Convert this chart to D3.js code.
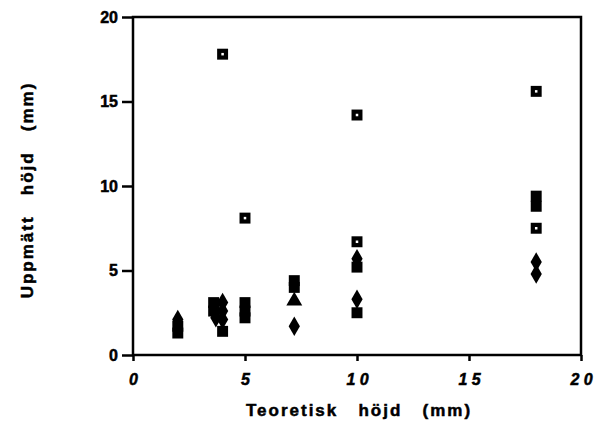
<!DOCTYPE html>
<html>
<head>
<meta charset="utf-8">
<script src="https://cdn.jsdelivr.net/npm/d3@7"></script>
<style>
  body { margin: 0; background: #fff; }
  text { font-family: "Liberation Sans", Arial, sans-serif; font-weight: bold; fill: #000; stroke: #000; stroke-width: 0.5px; }
</style>
</head>
<body>
<div id="chart"></div>
<script>
// data (x = teoretisk höjd, y = uppmätt höjd, mm)
var openSquares = [[4, 17.8], [5, 8.1], [10, 14.2], [18, 15.6], [10, 6.7], [18, 7.5]];
var filledSquares = [[2, 1.3], [2, 1.7], [3.6, 3.1], [3.6, 2.6], [4, 1.4], [5, 3.1], [5, 2.6], [5, 2.2],
                     [7.2, 4.4], [7.2, 4.0], [10, 5.2], [10, 2.5], [18, 9.4], [18, 8.8]];
var diamonds = [[2, 2.1], [3.7, 2.2], [4, 3.1], [4, 2.6], [4, 2.1], [7.2, 1.7], [10, 5.7], [10, 3.3],
                [18, 5.5], [18, 4.8]];
var triangles = [[7.2, 3.2]];
var xTicks = [0, 5, 10, 15, 20];
var yTicks = [0, 5, 10, 15, 20];

var margin = { top: 17, right: 13, bottom: 67, left: 133 },
    width = 594 - margin.left - margin.right,
    height = 422 - margin.top - margin.bottom;

var svg = d3.select("#chart")
  .append("svg")
    .attr("width", 594)
    .attr("height", 422)
  .append("g")
    .attr("transform", "translate(" + margin.left + "," + margin.top + ")");

var x = d3.scaleLinear().domain([0, 20]).range([0, width]);
var y = d3.scaleLinear().domain([0, 20]).range([height, 0]);

// frame
svg.append("rect")
  .attr("x", 0).attr("y", 0)
  .attr("width", width).attr("height", height)
  .style("fill", "none").style("stroke", "#000").style("stroke-width", 2.5);

// y axis
var yAxis = svg.append("g")
  .call(d3.axisLeft(y).tickValues(yTicks).tickSize(11).tickPadding(4).tickFormat(d3.format("d")));
yAxis.select(".domain").remove();
yAxis.selectAll("line").style("stroke-width", 2.5);
yAxis.selectAll("text").style("font-size", "16px").style("font-family", "Liberation Sans, Arial, sans-serif")
  .style("font-weight", "bold");

// x axis
var xAxis = svg.append("g")
  .attr("transform", "translate(0," + height + ")")
  .call(d3.axisBottom(x).tickValues(xTicks).tickSize(6).tickPadding(13).tickFormat(d => String(d).split("").join(" ")));
xAxis.select(".domain").remove();
xAxis.selectAll("line").style("stroke-width", 2.5);
xAxis.selectAll("text").style("font-size", "16px").style("font-family", "Liberation Sans, Arial, sans-serif")
  .style("font-weight", "bold").style("font-style", "italic");

// markers
function drawPoints(data, type, size, cls) {
  svg.selectAll("." + cls)
    .data(data)
    .enter()
    .append("path")
    .attr("class", cls)
    .attr("transform", d => "translate(" + x(d[0]) + "," + y(d[1]) + ")")
    .attr("d", d3.symbol().type(type).size(size))
    .style("fill", "#000");
}
drawPoints(filledSquares, d3.symbolSquare, 120, "fsq");
drawPoints(diamonds, d3.symbolDiamond, 110, "dia");
drawPoints(triangles, d3.symbolTriangle, 110, "tri");
drawPoints(openSquares, d3.symbolSquare, 120, "osq");
// small hole in open squares
svg.selectAll(".hole")
  .data(openSquares)
  .enter()
  .append("rect")
  .attr("class", "hole")
  .attr("x", d => x(d[0]) - 1.25)
  .attr("y", d => y(d[1]) - 1.25)
  .attr("width", 2.5)
  .attr("height", 2.5)
  .style("fill", "#fff");

// axis titles
svg.append("text")
  .attr("x", width / 2 + 2)
  .attr("y", height + 61)
  .attr("text-anchor", "middle")
  .style("font-size", "17px")
  .style("letter-spacing", "2px")
  .style("white-space", "pre")
  .text("Teoretisk   höjd   (mm)");

svg.append("text")
  .attr("transform", "translate(" + (-100) + "," + (height / 2 + 4) + ") rotate(-90)")
  .attr("text-anchor", "middle")
  .style("font-size", "17px")
  .style("letter-spacing", "2px")
  .style("white-space", "pre")
  .text("Uppmätt   höjd   (mm)");
</script>
</body>
</html>
